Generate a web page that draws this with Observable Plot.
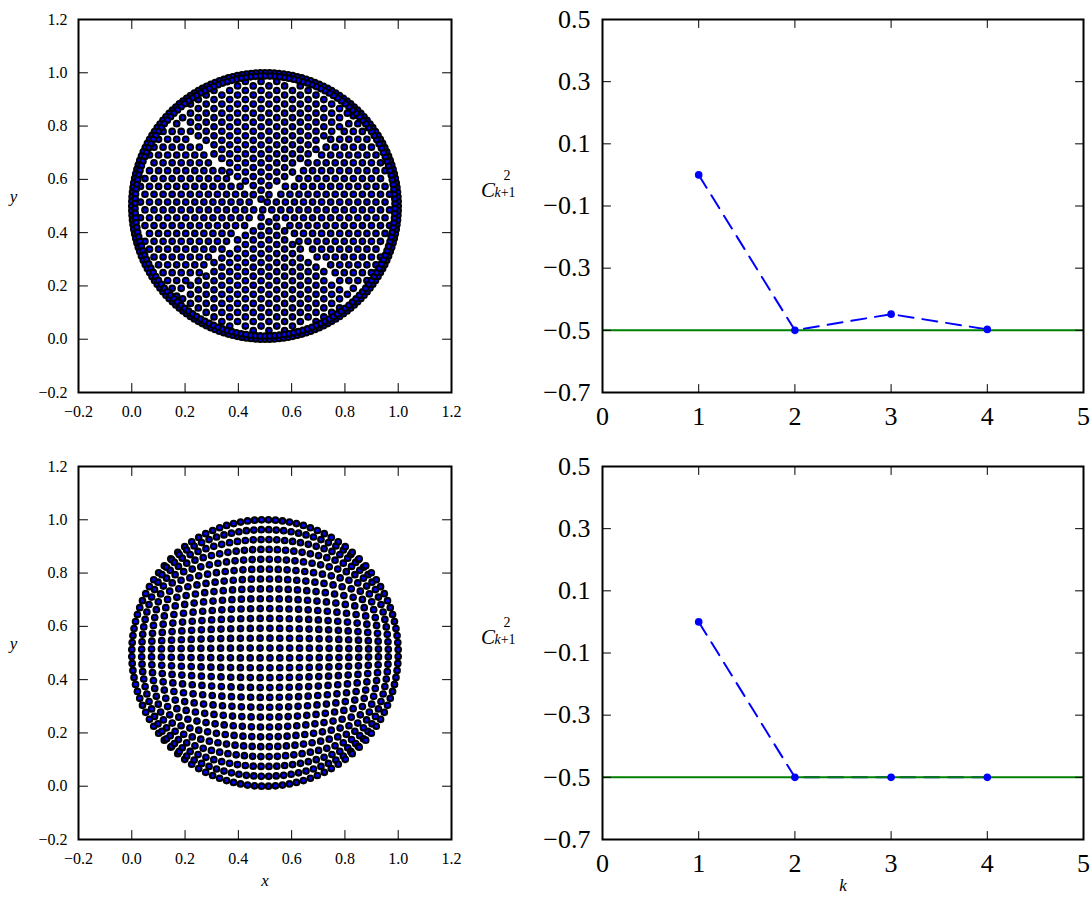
<!DOCTYPE html>
<html>
<head>
<meta charset="utf-8">
<script src="https://cdn.jsdelivr.net/npm/d3@7"></script>
<script src="https://cdn.jsdelivr.net/npm/@observablehq/plot@0.6"></script>
<style>
  body { margin: 0; background: #fff; }
  #wrap { position: relative; width: 1092px; height: 904px; background: #fff; }
  #wrap svg text, #wrap svg tspan { font-family: "Liberation Serif", "DejaVu Serif", serif !important; }
</style>
</head>
<body>
<div id="wrap"></div>
<script>
// ---------------- data ----------------
const leftTicks = [-0.2, 0.0, 0.2, 0.4, 0.6, 0.8, 1.0, 1.2];
const rightXTicks = [0, 1, 2, 3, 4, 5];
const rightYTicks = [0.5, 0.3, 0.1, -0.1, -0.3, -0.5, -0.7];
const kValues = [1, 2, 3, 4];
const topC = [0.0, -0.5, -0.448, -0.497];
const bottomC = [0.0, -0.5, -0.5, -0.5];
const refLine = [-0.5];

// disk point clouds (structure)
const diskCenter = [0.5, 0.5];
const diskRadius = 0.5;
const latticeSpacing = 0.034;    // spacing of the near-hexagonal interior (top)
const interiorExtent = 0.474;    // radius reached by the interior lattice (top)
const rimRadii = [0.5, 0.488];   // dense rim rings (top)
const rimCounts = [180, 170];
const gridPerSide = 28;          // square grid mapped onto the disk (bottom)

const topPoints = [];
{
  const a = latticeSpacing, h = a * Math.sqrt(3) / 2;
  const m = Math.ceil(diskRadius / h) + 2;
  const cand = [];
  for (let j = -m; j <= m; j++) {
    for (let i = -m; i <= m; i++) {
      const px = a * (i + (Math.abs(j) % 2) / 2 + 0.25), py = h * j + h / 2;
      if (Math.hypot(px, py) > interiorExtent) continue;
      // left/right sectors keep horizontal rows; top/bottom sectors get the lattice turned by 90°
      if (Math.abs(py) <= Math.abs(px) + a * 0.3) {
        cand.push([px, py]);
        cand.push([py, px]);
      }
    }
  }
  cand.sort((p, q) => Math.hypot(p[0], p[1]) - Math.hypot(q[0], q[1]));
  const kept = [];
  for (const p of cand) {
    if (kept.some(q => Math.hypot(p[0] - q[0], p[1] - q[1]) < a * 0.7)) continue;
    kept.push(p);
  }
  for (const p of kept) topPoints.push({x: diskCenter[0] + p[0], y: diskCenter[1] + p[1]});
}
rimRadii.forEach((rr, j) => {
  const n = rimCounts[j];
  for (let i = 0; i < n; i++) {
    const ang = 2 * Math.PI * (i + 0.5 * j) / n;
    topPoints.push({x: diskCenter[0] + rr * Math.cos(ang), y: diskCenter[1] + rr * Math.sin(ang)});
  }
});
const bottomPoints = [];
for (let i = 0; i < gridPerSide; i++) {
  for (let j = 0; j < gridPerSide; j++) {
    const sx = -1 + 2 * i / (gridPerSide - 1);
    const sy = -1 + 2 * j / (gridPerSide - 1);
    const u = sx * Math.sqrt(1 - sy * sy / 2);
    const v = sy * Math.sqrt(1 - sx * sx / 2);
    bottomPoints.push({x: diskCenter[0] + diskRadius * u, y: diskCenter[1] + diskRadius * v});
  }
}

// ---------------- helpers ----------------
const serif = "Liberation Serif, DejaVu Serif, serif";
const tickShape = {draw(ctx, l) { ctx.moveTo(0, 0); ctx.lineTo(0, -l); }};
function inwardTicks(xt, yt, xd, yd, len) {
  const o = {length: len, anchor: "start", shape: tickShape, stroke: "black", strokeWidth: 1};
  return [
    Plot.vector(xt, {...o, x: d => d, y: () => yd[0], rotate: 0}),
    Plot.vector(xt, {...o, x: d => d, y: () => yd[1], rotate: 180}),
    Plot.vector(yt, {...o, x: () => xd[0], y: d => d, rotate: 90}),
    Plot.vector(yt, {...o, x: () => xd[1], y: d => d, rotate: -90})
  ];
}

const wrap = document.getElementById("wrap");
function place(svg, left, top) {
  svg.style.position = "absolute";
  svg.style.left = left + "px";
  svg.style.top = top + "px";
  svg.style.maxWidth = "none";
  wrap.appendChild(svg);
}

function diskPanel(points, showX) {
  const dom = [-0.2, 1.2];
  const marks = [
    Plot.dot(points, {x: "x", y: "y", r: 2.8, fill: "blue", stroke: "black", strokeWidth: 2.1}),
    Plot.frame({stroke: "black", strokeWidth: 2}),
    ...inwardTicks(leftTicks, leftTicks, dom, dom, 9),
    Plot.axisX({ticks: leftTicks, tickSize: 0, tickPadding: 13, tickFormat: d3.format(".1f"), label: null, fontSize: 16}),
    Plot.axisY({ticks: leftTicks, tickSize: 0, tickPadding: 11, tickFormat: d3.format(".1f"), label: null, fontSize: 16}),
    Plot.text(["y"], {frameAnchor: "left", dx: -65, dy: -9, textAnchor: "middle", fontStyle: "italic", fontSize: 17})
  ];
  if (showX) marks.push(Plot.text(["x"], {frameAnchor: "bottom", dy: 46, textAnchor: "middle", fontStyle: "italic", fontSize: 17}));
  return Plot.plot({
    width: 470, height: showX ? 457 : 440,
    marginLeft: 78, marginRight: 19, marginTop: 19, marginBottom: showX ? 65 : 48,
    x: {domain: dom}, y: {domain: dom},
    style: {fontFamily: serif, fontSize: "16px", color: "black", background: "transparent"},
    marks
  });
}

function linePanel(values, showK) {
  const data = kValues.map((k, i) => ({k, c: values[i]}));
  const xd = [0, 5], yd = [-0.7, 0.5];
  const marks = [
    Plot.line(data, {x: "k", y: "c", stroke: "blue", strokeWidth: 2, strokeDasharray: "15,9"}),
    Plot.ruleY(refLine, {stroke: "green", strokeWidth: 2}),
    Plot.dot(data, {x: "k", y: "c", r: 3.8, fill: "blue", stroke: "none"}),
    Plot.frame({stroke: "black", strokeWidth: 2}),
    ...inwardTicks(rightXTicks, rightYTicks, xd, yd, 8),
    Plot.axisX({ticks: rightXTicks, tickSize: 0, tickPadding: 14, tickFormat: d3.format("d"), label: null, fontSize: 26}),
    Plot.axisY({ticks: rightYTicks, tickSize: 0, tickPadding: 12, tickFormat: d3.format(".1f"), label: null, fontSize: 26})
  ];
  if (showK) marks.push(Plot.text(["k"], {frameAnchor: "bottom", dy: 51, textAnchor: "middle", fontStyle: "italic", fontSize: 17}));
  const svg = Plot.plot({
    width: 612, height: showK ? 457 : 440,
    marginLeft: 122, marginRight: 9, marginTop: 19, marginBottom: showK ? 65 : 48,
    x: {domain: xd}, y: {domain: yd},
    style: {fontFamily: serif, fontSize: "26px", color: "black", background: "transparent"},
    marks
  });
  // y-axis label C^2_{k+1}
  const t = d3.select(svg).append("text").attr("fill", "black");
  t.append("tspan").attr("x", 8).attr("y", 197).attr("font-size", 21).attr("font-style", "italic").text("C");
  t.append("tspan").attr("x", 27).attr("y", 180).attr("font-size", 14).text("2");
  const sub = t.append("tspan").attr("x", 25).attr("y", 197).attr("font-size", 14);
  sub.append("tspan").attr("font-style", "italic").text("k");
  sub.append("tspan").text("+1");
  return svg;
}

place(diskPanel(topPoints, false), 0, 0);
place(diskPanel(bottomPoints, true), 0, 447);
place(linePanel(topC, false), 480, 0);
place(linePanel(bottomC, true), 480, 447);
</script>
</body>
</html>
